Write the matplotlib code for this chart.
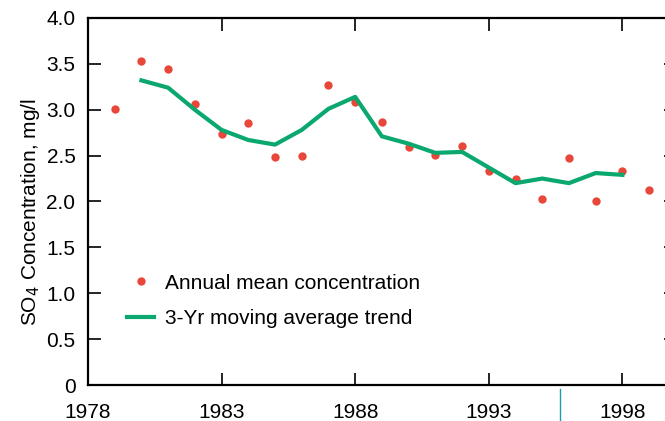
import matplotlib
matplotlib.use("Agg")
import matplotlib.pyplot as plt
from matplotlib.lines import Line2D

# annual means
years = [1979, 1980, 1981, 1982, 1983, 1984, 1985, 1986, 1987, 1988, 1989,
         1990, 1991, 1992, 1993, 1994, 1995, 1996, 1997, 1998, 1999]
annual = [3.01, 3.53, 3.44, 3.06, 2.74, 2.86, 2.49, 2.50, 3.27, 3.08, 2.87,
          2.59, 2.51, 2.60, 2.33, 2.25, 2.03, 2.47, 2.01, 2.33, 2.13]

# 3-yr moving average
trend_years = [1980, 1981, 1982, 1983, 1984, 1985, 1986, 1987, 1988, 1989,
               1990, 1991, 1992, 1993, 1994, 1995, 1996, 1997, 1998]
trend = [3.32, 3.24, 3.00, 2.78, 2.67, 2.62, 2.78, 3.01, 3.14, 2.71,
         2.63, 2.53, 2.54, 2.37, 2.20, 2.25, 2.20, 2.31, 2.29]

xticks = [1978, 1983, 1988, 1993, 1998]
yticks = [0, 0.5, 1.0, 1.5, 2.0, 2.5, 3.0, 3.5, 4.0]
ylabels = ["0", "0.5", "1.0", "1.5", "2.0", "2.5", "3.0", "3.5", "4.0"]

red = "#e8473a"
green = "#0aa86e"

plt.rcParams['font.family'] = ['Liberation Sans', 'DejaVu Sans']

fig = plt.figure(figsize=(6.65, 4.21), dpi=100)
ax = fig.add_axes([0.1323, 0.0855, 0.884, 0.8718])

ax.plot(years, annual, 'o', color=red, markersize=6, markeredgewidth=0,
        label="Annual mean concentration")
ax.plot(trend_years, trend, '-', color=green, linewidth=3,
        label="3-Yr moving average trend")

ax.set_xlim(1978, 2000)
ax.set_ylim(0, 4.0)
ax.set_xticks(xticks)
ax.set_xticklabels([str(x) for x in xticks])
ax.set_yticks(yticks)
ax.set_yticklabels(ylabels)
ax.tick_params(direction='in', length=9, width=1.2, labelsize=15,
               top=True, right=True, pad=9)
ax.tick_params(axis='x', pad=13)
for s in ax.spines.values():
    s.set_linewidth(1.6)

ax.set_ylabel("SO$_4$ Concentration, mg/l", fontsize=15)
ax.yaxis.set_label_coords(-0.078, 0.47)

ax.legend(loc='lower left', bbox_to_anchor=(0.042, 0.115), frameon=False,
          fontsize=15, handlelength=1.3, handletextpad=0.5,
          labelspacing=0.8, borderpad=0.2)

# stray cyan mark under the axis in the source
fig.add_artist(Line2D([560/665, 560/665], [0, 1 - 389/421],
                      color="#1a9bb0", linewidth=1.0))

fig.savefig("out.png", dpi=100)
